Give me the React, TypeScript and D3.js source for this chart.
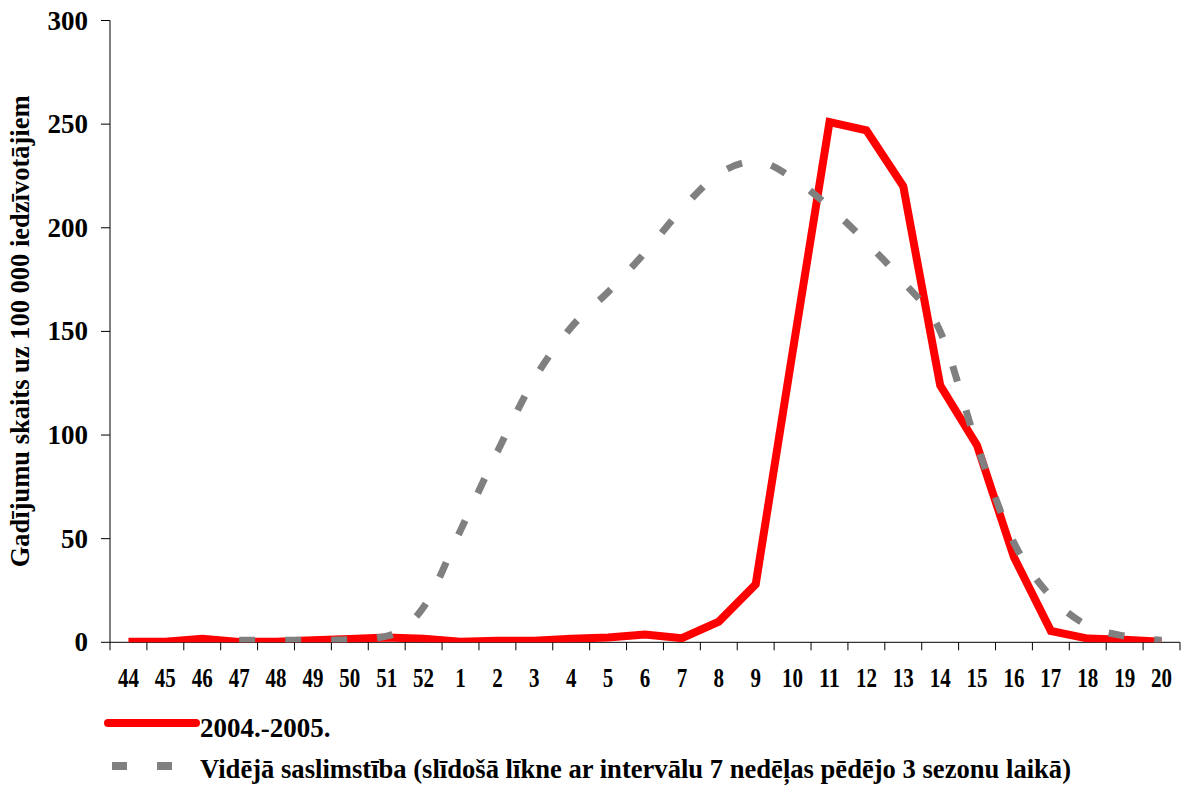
import React from "react";
import * as d3 from "d3";

const weeks = ["44","45","46","47","48","49","50","51","52","1","2","3","4","5","6","7","8","9","10","11","12","13","14","15","16","17","18","19","20"];
const season2004: (number | null)[] = [0.3,0.3,1.7,0.2,0.3,1,1.6,2.3,1.7,0.3,0.7,0.7,1.7,2.3,3.8,2,10,28,140,251,247,220,124,95,41,5.5,1.8,1.2,0.3];
const average: (number | null)[] = [null,null,null,1,1,1,1.2,3,17,54,92,127,152,169,188,209,226,232,224,210,193,174,150,95,48,22,8,3,1];
const yTicks = [0,50,100,150,200,250,300];
const seriesNames = ["2004.-2005.", "Vidējā saslimstība (slīdošā līkne ar intervālu 7 nedēļas pēdējo 3 sezonu laikā)"];
const yTitle = "Gadījumu skaits uz 100 000 iedzīvotājiem";

const W = 1186, H = 787;
const left = 110, right = 1180, top = 20.5, bottom = 642.3;
const FONT = "'Liberation Serif', 'Times New Roman', serif";

export default function App() {
  const x = d3.scaleBand<string>().domain(weeks).range([left, right]).padding(0);
  const y = d3.scaleLinear().domain([0, 300]).range([bottom, top]);
  const cx = (w: string) => (x(w) as number) + x.bandwidth() / 2;

  const redLine = d3.line<number | null>()
    .defined(d => d != null)
    .x((_, i) => cx(weeks[i]))
    .y(d => y(d as number));
  const grayLine = d3.line<number | null>()
    .defined(d => d != null)
    .x((_, i) => cx(weeks[i]))
    .y(d => y(d as number))
    .curve(d3.curveMonotoneX);

  const boundaries = weeks.map(w => x(w) as number).concat([right]);

  return (
    <svg width={W} height={H} style={{ position: "absolute", left: 0, top: 0, background: "#fff" }}
      fontFamily={FONT} fontWeight="bold">
      <defs>
        <clipPath id="plot">
          <rect x={left} y={top - 10} width={right - left + 10} height={bottom - top + 10} />
        </clipPath>
      </defs>
      <rect width={W} height={H} fill="#fff" />
      {/* y axis */}
      <line x1={left} x2={left} y1={top} y2={bottom} stroke="#000" strokeWidth={1} />
      {yTicks.map(t => (
        <g key={t}>
          <line x1={left - 9} x2={left} y1={y(t)} y2={y(t)} stroke="#000" strokeWidth={1} />
          <text x={88} y={y(t) + 9} textAnchor="end" fontSize={27}>{t}</text>
        </g>
      ))}
      {/* x axis */}
      <line x1={left} x2={right} y1={bottom} y2={bottom} stroke="#000" strokeWidth={1} />
      {boundaries.map((b, i) => (
        <line key={i} x1={b} x2={b} y1={bottom} y2={bottom + 8} stroke="#000" strokeWidth={1} />
      ))}
      {weeks.map(w => (
        <text key={w} x={cx(w)} y={687} textAnchor="middle" fontSize={27}
          textLength={w.length * 10.5} lengthAdjust="spacingAndGlyphs">{w}</text>
      ))}
      {/* y title */}
      <text transform={`translate(29, ${(top + bottom) / 2}) rotate(-90)`} textAnchor="middle" fontSize={26.5}>{yTitle}</text>
      {/* series */}
      <g clipPath="url(#plot)">
        <path d={redLine(season2004) || ""} fill="none" stroke="#ff0000" strokeWidth={8} strokeLinejoin="miter" strokeMiterlimit={4} />
        <path d={grayLine(average) || ""} fill="none" stroke="#808080" strokeWidth={7} strokeDasharray="16,30" />
      </g>
      {/* legend */}
      <line x1={108} x2={196} y1={723} y2={723} stroke="#ff0000" strokeWidth={8} strokeLinecap="round" />
      <text x={200} y={737} fontSize={27}>{seriesNames[0]}</text>
      <line x1={112} x2={197} y1={766} y2={766} stroke="#808080" strokeWidth={8} strokeDasharray="15,30" />
      <text x={200} y={778} fontSize={26.6}>{seriesNames[1]}</text>
    </svg>
  );
}
